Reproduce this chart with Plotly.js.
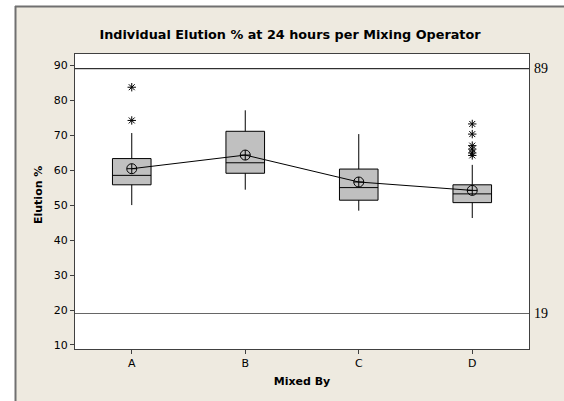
<!DOCTYPE html>
<html>
<head>
<meta charset="utf-8">
<script src="https://cdn.plot.ly/plotly-3.0.1.min.js"></script>
<style>html,body{margin:0;padding:0;background:#fff;overflow:hidden;}#chart{width:564px;height:401px;display:block;}</style>
</head>
<body>
<div id="chart"></div>
<script>
// ---- data ----
const categories = ['A', 'B', 'C', 'D'];
const q1Values      = [55.8, 59.1, 51.4, 50.7];
const medianValues  = [58.5, 62.1, 55.0, 53.2];
const q3Values      = [63.3, 71.1, 60.3, 55.8];
const lowerWhisker  = [50.0, 54.4, 48.4, 46.3];
const upperWhisker  = [70.6, 77.1, 70.3, 61.5];
const meanValues    = [60.4, 64.3, 56.6, 54.2];
const outlierCats   = ['A', 'A', 'D', 'D', 'D', 'D', 'D', 'D'];
const outlierValues = [83.7, 74.2, 73.2, 70.3, 67.0, 66.0, 64.9, 64.2];
const refValues     = [89, 19];
const refColors     = ['#000000', '#666666'];
const yTicks        = [10, 20, 30, 40, 50, 60, 70, 80, 90];

const tickFont = {family: 'DejaVu Sans', size: 11, color: '#000'};
const boldFont = {family: 'DejaVu Sans', size: 11, color: '#000', weight: 'bold'};

// plot area in pixels: x 75..529, y 54..349
const W = 564, H = 401, L = 75, R = 529, T = 54, B = 349;
const px = p => (p - L) / (R - L);
const py = p => (B - p) / (B - T);

const traces = [
  {
    type: 'box', x: categories,
    q1: q1Values, median: medianValues, q3: q3Values,
    lowerfence: lowerWhisker, upperfence: upperWhisker,
    width: 0.34, whiskerwidth: 0, boxpoints: false,
    fillcolor: '#c0c0c0', line: {color: '#000', width: 1},
    hoverinfo: 'skip', showlegend: false
  },
  {
    type: 'scatter', mode: 'lines+markers', x: categories, y: meanValues,
    line: {color: '#000', width: 1},
    marker: {symbol: 'circle-cross-open', size: 10, color: '#000', line: {width: 1}},
    showlegend: false
  },
  {
    type: 'scatter', mode: 'markers', x: outlierCats, y: outlierValues,
    marker: {symbol: 'asterisk-open', size: 7, color: '#000', line: {width: 1, color: '#000'}},
    showlegend: false
  }
];

const shapes = [
  // white margins outside the beige frame
  {type: 'rect', xref: 'paper', yref: 'paper', x0: px(-20), x1: px(15), y0: py(420), y1: py(-20),
   fillcolor: '#fff', line: {width: 0}, layer: 'below'},
  {type: 'rect', xref: 'paper', yref: 'paper', x0: px(-20), x1: px(580), y0: py(6), y1: py(-20),
   fillcolor: '#fff', line: {width: 0}, layer: 'below'},
  // frame border (left and top)
  {type: 'line', xref: 'paper', yref: 'paper', x0: px(15.5), x1: px(15.5), y0: py(6), y1: py(420),
   line: {color: '#707070', width: 2}, layer: 'below'},
  {type: 'line', xref: 'paper', yref: 'paper', x0: px(15), x1: px(580), y0: py(6.5), y1: py(6.5),
   line: {color: '#707070', width: 2}, layer: 'below'}
];
refValues.forEach((v, i) => {
  shapes.push({type: 'line', xref: 'paper', yref: 'y', x0: 0, x1: 1, y0: v, y1: v,
    line: {color: refColors[i], width: 1}, layer: 'above'});
});

const annotations = refValues.map(v => ({
  xref: 'paper', yref: 'y', x: 1, y: v, xanchor: 'left', yanchor: 'middle', xshift: 3,
  text: String(v), showarrow: false, font: {family: 'Liberation Serif', size: 14, color: '#000'}
}));
// y axis title placed as in the reference
annotations.push({
  xref: 'paper', yref: 'paper', x: px(38), y: py(195), xanchor: 'center', yanchor: 'middle',
  text: 'Elution %', textangle: -90, showarrow: false, font: boldFont
});

const layout = {
  width: W, height: H,
  margin: {l: L, r: W - R, t: T, b: H - B, pad: 0},
  paper_bgcolor: '#eeeae0', plot_bgcolor: '#ffffff',
  title: {text: 'Individual Elution % at 24 hours per Mixing Operator',
          font: {family: 'DejaVu Sans', size: 12.8, color: '#000', weight: 'bold'},
          x: 290 / W, xanchor: 'center', xref: 'container',
          y: 1 - 35 / H, yanchor: 'middle', yref: 'container'},
  xaxis: {
    type: 'category', categoryorder: 'array', categoryarray: categories,
    range: [-0.5, 3.5], showgrid: false, zeroline: false,
    showline: true, mirror: true, linecolor: '#404040', linewidth: 1,
    ticks: 'outside', ticklen: 4, tickcolor: '#404040', tickfont: tickFont,
    title: {text: 'Mixed By', font: boldFont, standoff: 8}
  },
  yaxis: {
    range: [8.85, 93.2], tickvals: yTicks, showgrid: false, zeroline: false,
    showline: true, mirror: true, linecolor: '#404040', linewidth: 1,
    ticks: 'outside', ticklen: 4, tickcolor: '#404040', tickfont: tickFont
  },
  shapes: shapes, annotations: annotations, showlegend: false
};

Plotly.newPlot('chart', traces, layout, {displayModeBar: false, staticPlot: true});
</script>
</body>
</html>
